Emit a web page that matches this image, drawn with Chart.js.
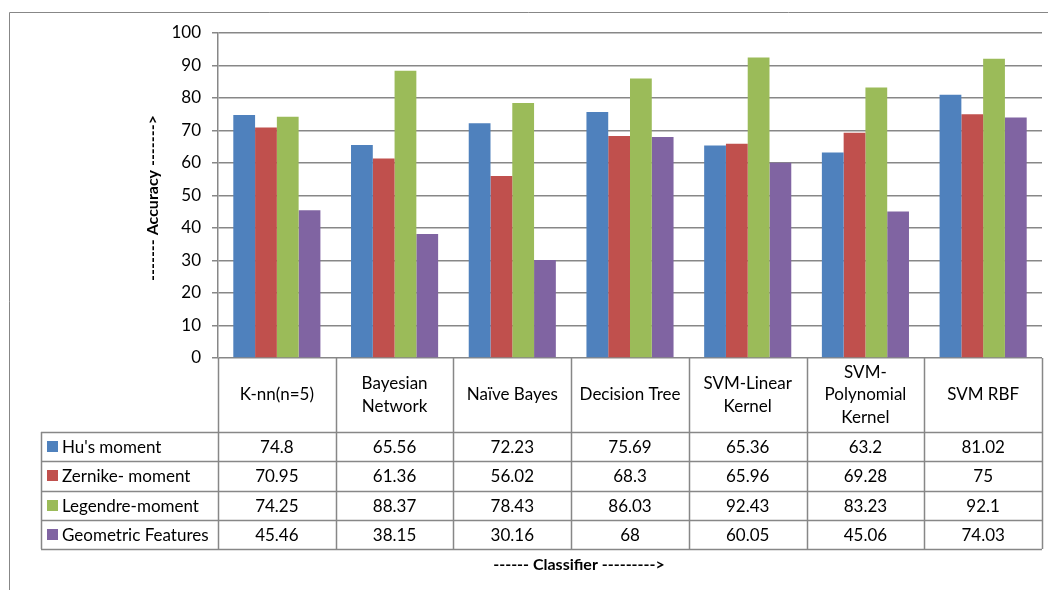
<!DOCTYPE html>
<html>
<head>
<meta charset="utf-8">
<title>Classifier accuracy</title>
<script src="https://cdn.jsdelivr.net/npm/chart.js@4.4.1/dist/chart.umd.min.js"></script>
<style>
    html, body { margin: 0; padding: 0; background: #ffffff; }
    #wrap { position: relative; width: 1048px; height: 590px; }
</style>
</head>
<body>
<div id="wrap"><canvas id="chart" width="1048" height="590"></canvas></div>
<script>
"use strict";

var categories = [
    "K-nn(n=5)",
    ["Bayesian", "Network"],
    "Naïve Bayes",
    "Decision Tree",
    ["SVM-Linear", "Kernel"],
    ["SVM-", "Polynomial", "Kernel"],
    "SVM RBF"
];
var seriesNames = ["Hu's moment", "Zernike- moment", "Legendre-moment", "Geometric Features"];
var husMoment = [74.8, 65.56, 72.23, 75.69, 65.36, 63.2, 81.02];
var zernikeMoment = [70.95, 61.36, 56.02, 68.3, 65.96, 69.28, 75];
var legendreMoment = [74.25, 88.37, 78.43, 86.03, 92.43, 83.23, 92.1];
var geometricFeatures = [45.46, 38.15, 30.16, 68, 60.05, 45.06, 74.03];
var seriesColors = ["#4F81BD", "#C0504D", "#9BBB59", "#8064A2"];
var yTitle = "------- Accuracy ------->";
var xTitle = "------ Classifier --------->";

var FONT = "Lato, 'Open Sans', sans-serif";
var LINE = "#878787";

// Excel-style data table under the plot, plus axis titles and outer frame
var dataTablePlugin = {
    id: "dataTable",
    afterDraw: function (chart) {
        var ctx = chart.ctx;
        var area = chart.chartArea;
        var xs = chart.scales.x;
        var n = categories.length;
        var colW = (area.right - area.left) / n;
        var top = area.bottom;
        var headH = 74;
        var rowH = 29.25;
        var legendLeft = 41;
        var bottom = top + headH + rowH * seriesNames.length;

        ctx.save();

        // outer frame (left and top edges)
        ctx.strokeStyle = LINE;
        ctx.lineWidth = 1;
        ctx.beginPath();
        ctx.moveTo(9.5, 590);
        ctx.lineTo(9.5, 12.5);
        ctx.lineTo(1048, 12.5);
        ctx.stroke();

        // table grid
        ctx.lineWidth = 1.5;
        ctx.beginPath();
        for (var c = 0; c <= n; c++) {
            var lx = Math.round(area.left + c * colW) + 0.5;
            ctx.moveTo(lx, top);
            ctx.lineTo(lx, bottom);
        }
        ctx.moveTo(legendLeft + 0.5, top + headH);
        ctx.lineTo(legendLeft + 0.5, bottom);
        for (var r = 0; r <= seriesNames.length; r++) {
            var ly = Math.round(top + headH + r * rowH) + 0.5;
            ctx.moveTo(legendLeft, ly);
            ctx.lineTo(area.right, ly);
        }
        ctx.stroke();

        ctx.fillStyle = "#000000";
        ctx.font = "17px " + FONT;
        ctx.textAlign = "center";
        ctx.textBaseline = "middle";

        // category headers
        for (var i = 0; i < n; i++) {
            var cx = xs.getPixelForValue(i);
            var lines = Array.isArray(categories[i]) ? categories[i] : [categories[i]];
            var lh = 22.5;
            var y0 = top + headH / 2 - (lines.length - 1) * lh / 2;
            for (var k = 0; k < lines.length; k++) {
                ctx.fillText(lines[k], cx, y0 + k * lh);
            }
        }

        // series rows
        chart.data.datasets.forEach(function (ds, s) {
            var cy = top + headH + s * rowH + rowH / 2;
            ctx.fillStyle = ds.backgroundColor;
            ctx.fillRect(47, Math.round(cy - 5.5), 11, 11);
            ctx.fillStyle = "#000000";
            ctx.textAlign = "left";
            ctx.fillText(ds.label, 62, cy + 1);
            ctx.textAlign = "center";
            ds.data.forEach(function (v, j) {
                ctx.fillText(String(v), xs.getPixelForValue(j), cy + 1);
            });
        });

        // axis titles
        ctx.font = "bold 16px " + FONT;
        ctx.fillText(xTitle, 579, 565);
        ctx.translate(153, 198);
        ctx.rotate(-Math.PI / 2);
        ctx.fillText(yTitle, 0, 0);

        ctx.restore();
    }
};

var datasets = [husMoment, zernikeMoment, legendreMoment, geometricFeatures].map(function (values, i) {
    return {
        label: seriesNames[i],
        data: values,
        backgroundColor: seriesColors[i],
        borderWidth: 0,
        barPercentage: 1,
        categoryPercentage: 0.74
    };
});

new Chart(document.getElementById("chart").getContext("2d"), {
    type: "bar",
    data: {
        labels: categories,
        datasets: datasets
    },
    options: {
        responsive: false,
        animation: false,
        layout: {
            padding: { left: 0, top: 33, right: 6, bottom: 232 }
        },
        plugins: {
            legend: { display: false },
            tooltip: { enabled: false }
        },
        scales: {
            x: {
                display: false
            },
            y: {
                min: 0,
                max: 100,
                afterFit: function (scale) {
                    scale.width = 218;
                },
                ticks: {
                    stepSize: 10,
                    color: "#000000",
                    padding: 11,
                    font: { family: FONT, size: 17 }
                },
                grid: {
                    color: LINE,
                    lineWidth: 1.5,
                    tickLength: 6
                },
                border: {
                    color: LINE,
                    width: 1.5
                }
            }
        }
    },
    plugins: [dataTablePlugin]
});
</script>
</body>
</html>
